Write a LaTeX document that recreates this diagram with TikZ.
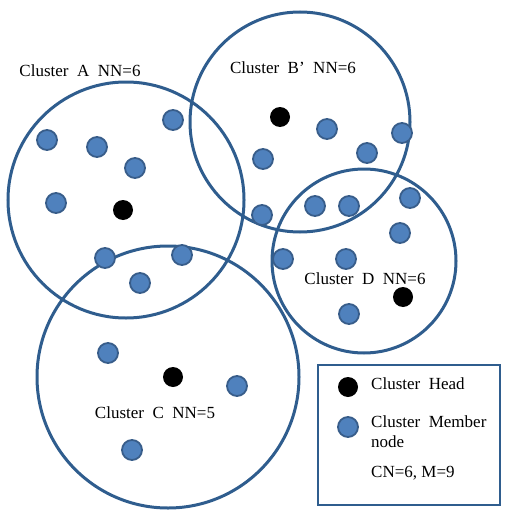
\documentclass[tikz,border=0pt]{standalone}
\usepackage{fontspec}
\setmainfont{Liberation Serif}
\definecolor{ringblue}{HTML}{2F5D8E}
\definecolor{dotfill}{HTML}{4F81BD}
\definecolor{dotline}{HTML}{385D8A}
\begin{document}
\begin{tikzpicture}[x=1pt,y=-1pt,
  ring/.style={draw=ringblue,line width=3pt},
  member/.style={circle,fill=dotfill,draw=dotline,line width=1.8pt,minimum size=20pt,inner sep=0pt},
  head/.style={circle,fill=black,minimum size=20pt,inner sep=0pt},
  lab/.style={font=\fontsize{17}{20}\selectfont,inner sep=1pt}]
\useasboundingbox (0,0) rectangle (504,511);
% cluster rings
\draw[ring] (126,200) circle[radius=118pt];
\draw[ring] (300,122) circle[radius=110pt];
\draw[ring] (364,261) circle[radius=92pt];
\draw[ring] (168,377) circle[radius=131pt];
% labels
\node[lab] (la) at (80,71) {Cluster\ \ A\ \ NN=6};
\node[lab] (lb) at (293,68) {Cluster\ \ B'\ \ NN=6};
\node[lab] (ld) at (365,279) {Cluster\ \ D\ \ NN=6};
\node[lab] (lc) at (155,413) {Cluster\ \ C\ \ NN=5};
% cluster A
\node[member] (a1) at (173,120) {};
\node[member] (a2) at (47,140) {};
\node[member] (a3) at (97,147) {};
\node[member] (a4) at (135,168) {};
\node[member] (a5) at (56,203) {};
\node[head] (ha) at (123,210) {};
\node[member] (a6) at (105,258) {};
\node[member] (a7) at (182,255) {};
\node[member] (a8) at (140,283) {};
% cluster B'
\node[head] (hb) at (280,117) {};
\node[member] (b1) at (327,129) {};
\node[member] (b2) at (402,133) {};
\node[member] (b3) at (367,153) {};
\node[member] (b4) at (263,159) {};
\node[member] (b5) at (262,215) {};
\node[member] (b6) at (315,206) {};
\node[member] (b7) at (349,206) {};
% cluster D
\node[member] (d1) at (410,198) {};
\node[member] (d2) at (400,233) {};
\node[member] (d3) at (283,259) {};
\node[member] (d4) at (346,259) {};
\node[head] (hd) at (403,297) {};
\node[member] (d5) at (349,314) {};
% cluster C
\node[member] (c1) at (108,353) {};
\node[head] (hc) at (173,377) {};
\node[member] (c2) at (237,386) {};
\node[member] (c3) at (132,450) {};
% legend
\draw[draw=ringblue,line width=2.6pt] (318,365) rectangle (500,505);
\node[head] (lh) at (348,387) {};
\node[lab,anchor=west] (lht) at (370,384) {Cluster\ \ Head};
\node[member] (lm) at (348,427) {};
\node[lab,anchor=north west,align=left] (lmt) at (370,414) {Cluster\ \ Member\\node};
\node[lab,anchor=west] (lcn) at (370,473) {CN=6,\ M=9};
\end{tikzpicture}
\end{document}
